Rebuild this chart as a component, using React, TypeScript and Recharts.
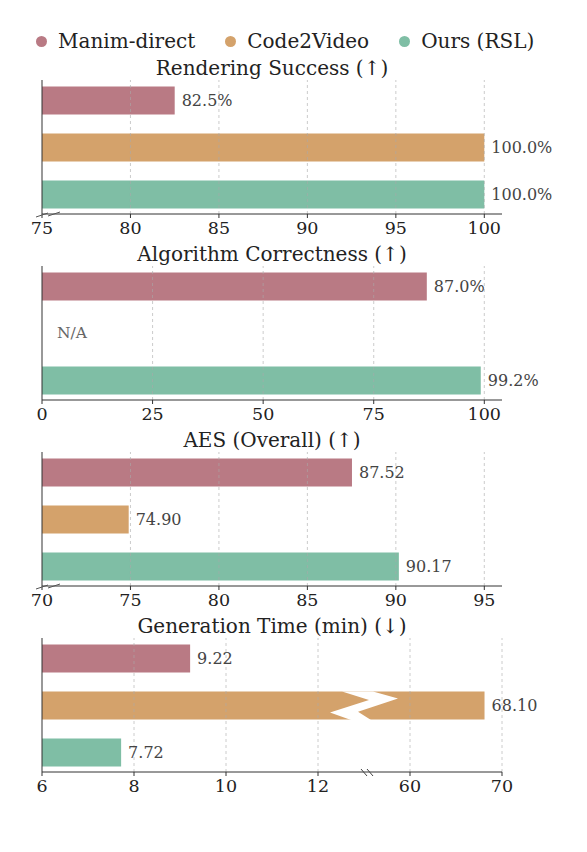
import React from 'react'
import { BarChart, Bar, Cell, XAxis, YAxis, ReferenceLine, LabelList } from 'recharts'

const FONT = '"DejaVu Serif", "Liberation Serif", serif'

const categories = ['Manim-direct', 'Code2Video', 'Ours (RSL)']
const colors = ['#b97a84', '#d4a26b', '#7fbea5']

const renderingSuccess = [82.5, 100.0, 100.0]
const algorithmCorrectness = [87.0, null, 99.2]
const aesOverall = [87.52, 74.9, 90.17]
const generationTime = [9.22, 68.1, 7.72]

const renderTicks = [75, 80, 85, 90, 95, 100]
const correctTicks = [0, 25, 50, 75, 100]
const aesTicks = [70, 75, 80, 85, 90, 95]
const timeTicks = [6, 8, 10, 12, 60, 70]

// broken time axis: 6..13 linear, then 55..70 squeezed 5x
const BREAK_LOW = 13
const BREAK_HIGH = 55
const HIGH_SCALE = 5
const toAxis = (v: number) => (v <= BREAK_LOW ? v : BREAK_LOW + (v - BREAK_HIGH) / HIGH_SCALE)

const W = 587
const H = 186
const YW = 1
const M = { top: 24, right: 85, bottom: 0, left: 42 - YW }
const XH = 28
const PLOT_L = 42
const PLOT_R = W - M.right
const PLOT_B = H - XH

type Row = { name: string; value: number | null; label: string; cut?: boolean }

function makeRows(vals: (number | null)[], fmt: (v: number) => string, map = (v: number) => v, cutIdx = -1): Row[] {
  return categories.map((name, i) => {
    const v = vals[i]
    return {
      name,
      value: v == null ? null : map(v),
      label: v == null ? 'N/A' : fmt(v),
      cut: i === cutIdx,
    }
  })
}

function ValueLabel(props: any) {
  const { x, y, width, height, value } = props
  if (value === 'N/A' || !Number.isFinite(width)) return null
  return (
    <text x={x + width + 7} y={y + height / 2} dominantBaseline="central" fontSize={16} fill="#444" fontFamily={FONT}>
      {value}
    </text>
  )
}

function CutBar(props: any) {
  const { x, y, width, height, fill, payload } = props
  if (!Number.isFinite(width) || width <= 0) return null
  const rect = <rect x={x} y={y} width={width} height={height} fill={fill} />
  if (!payload || !payload.cut) return rect
  const cx = x + (width * (BREAK_LOW - 6)) / (payload.value - 6)
  const h = height
  const pts = [
    [-22, 0],
    [9, 0],
    [34, 0.25 * h],
    [-6, 0.72 * h],
    [7, h + 0.5],
    [-13, h + 0.5],
    [-34, 0.75 * h],
    [5, 0.3 * h],
  ]
    .map(([dx, dy]) => `${cx + dx},${y + dy}`)
    .join(' ')
  return (
    <g>
      {rect}
      <polygon points={pts} fill="#ffffff" />
    </g>
  )
}

interface PanelProps {
  title: string
  rows: Row[]
  domain: [number, number]
  ticks: number[]
  tickFormatter?: (v: number) => string
  leftBreak?: boolean
  axisBreak?: boolean
  top: number
}

function Panel({ title, rows, domain, ticks, tickFormatter, leftBreak, axisBreak, top }: PanelProps) {
  // missing values are marked on the category axis
  const naTick = (p: any) => {
    const row = rows.find((r) => r.name === p.payload?.value)
    if (!row || row.value != null) return <g />
    return (
      <text x={PLOT_L + 15} y={p.y} dominantBaseline="central" fontSize={15.5} fill="#666" fontFamily={FONT}>
        N/A
      </text>
    )
  }
  return (
    <div style={{ position: 'absolute', left: 0, top, width: W, height: H }}>
      <div
        style={{
          position: 'absolute',
          left: PLOT_L - 40,
          width: PLOT_R - PLOT_L + 80,
          top: 0,
          height: 24,
          lineHeight: '24px',
          textAlign: 'center',
          fontFamily: FONT,
          fontSize: 20,
          color: '#222',
          whiteSpace: 'nowrap',
        }}
      >
        {title}
      </div>
      <BarChart width={W} height={H} data={rows} layout="vertical" margin={M} style={{ fontFamily: FONT }}>
        <XAxis
          type="number"
          domain={domain}
          ticks={ticks}
          allowDataOverflow
          height={XH}
          tickFormatter={tickFormatter}
          tick={{ fontSize: 17.5, fill: '#222', fontFamily: FONT }}
          tickSize={4}
          tickMargin={4}
          stroke="#333"
          interval={0}
        />
        <YAxis
          type="category"
          dataKey="name"
          width={YW}
          tick={naTick}
          tickLine={false}
          stroke="#333"
          interval={0}
          padding={{ top: -3.5, bottom: -3.5 }}
        />
        <Bar dataKey="value" barSize={28} isAnimationActive={false} shape={CutBar}>
          {rows.map((r, i) => (
            <Cell key={r.name} fill={colors[i]} />
          ))}
          <LabelList dataKey="label" content={ValueLabel} />
        </Bar>
        {ticks
          .filter((t) => t > domain[0])
          .map((t) => (
            <ReferenceLine key={t} x={t} stroke="#aaa" strokeOpacity={0.6} strokeDasharray="3 3" />
          ))}
      </BarChart>
      <svg width={W} height={H} style={{ position: 'absolute', left: 0, top: 0, pointerEvents: 'none' }}>
        {leftBreak && (
          <g stroke="#555" strokeWidth={1}>
            <line x1={PLOT_L - 6} y1={PLOT_B + 3} x2={PLOT_L + 6} y2={PLOT_B - 1} />
            <line x1={PLOT_L + 6} y1={PLOT_B + 2} x2={PLOT_L + 18} y2={PLOT_B - 2} />
          </g>
        )}
        {axisBreak && (
          <g stroke="#444" strokeWidth={1}>
            <line x1={PLOT_L + 46 * (BREAK_LOW - 6) - 3} y1={PLOT_B - 3} x2={PLOT_L + 46 * (BREAK_LOW - 6) + 3} y2={PLOT_B + 4} />
            <line x1={PLOT_L + 46 * (BREAK_LOW - 6) + 3} y1={PLOT_B - 3} x2={PLOT_L + 46 * (BREAK_LOW - 6) + 9} y2={PLOT_B + 4} />
          </g>
        )}
      </svg>
    </div>
  )
}

function Legend() {
  return (
    <div
      style={{
        position: 'absolute',
        left: 36,
        top: 29,
        height: 24,
        display: 'flex',
        alignItems: 'center',
        gap: 30,
        fontFamily: FONT,
        fontSize: 20,
        color: '#222',
        whiteSpace: 'nowrap',
      }}
    >
      {categories.map((c, i) => (
        <div key={c} style={{ display: 'flex', alignItems: 'center', gap: 11 }}>
          <span style={{ width: 11, height: 11, borderRadius: '50%', background: colors[i], display: 'inline-block' }} />
          <span>{c}</span>
        </div>
      ))}
    </div>
  )
}

export default function App() {
  const pct = (v: number) => `${v.toFixed(1)}%`
  const two = (v: number) => v.toFixed(2)
  const timeAxisTicks = timeTicks.map(toAxis)
  const timeLabel = (t: number) => {
    const i = timeAxisTicks.findIndex((a) => Math.abs(a - t) < 1e-6)
    return i >= 0 ? String(timeTicks[i]) : ''
  }
  return (
    <div style={{ position: 'absolute', left: 0, top: 0, width: W, height: 852, background: '#fff' }}>
      <Legend />
      <Panel
        title="Rendering Success (↑)"
        rows={makeRows(renderingSuccess, pct)}
        domain={[75, 101]}
        ticks={renderTicks}
        leftBreak
        top={56}
      />
      <Panel
        title="Algorithm Correctness (↑)"
        rows={makeRows(algorithmCorrectness, pct)}
        domain={[0, 104]}
        ticks={correctTicks}
        top={242}
      />
      <Panel
        title="AES (Overall) (↑)"
        rows={makeRows(aesOverall, two)}
        domain={[70, 96]}
        ticks={aesTicks}
        leftBreak
        top={428}
      />
      <Panel
        title="Generation Time (min) (↓)"
        rows={makeRows(generationTime, two, toAxis, 1)}
        domain={[6, 16]}
        ticks={timeAxisTicks}
        tickFormatter={timeLabel}
        axisBreak
        top={614}
      />
    </div>
  )
}
